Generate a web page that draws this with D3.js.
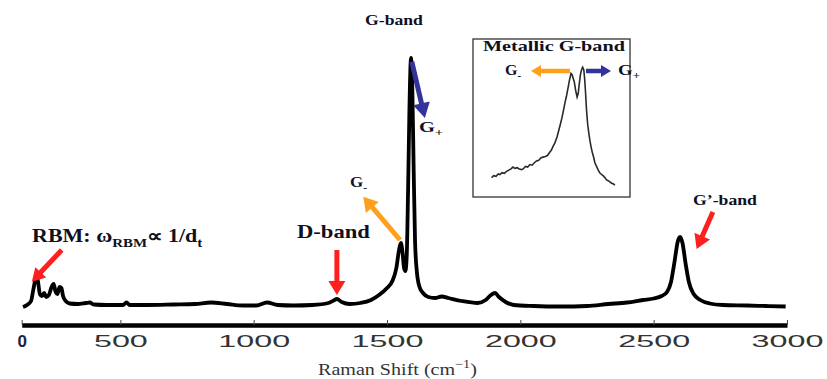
<!DOCTYPE html>
<html>
<head>
<meta charset="utf-8">
<script src="https://cdn.jsdelivr.net/npm/d3@7"></script>
<style>
  body { margin: 0; background: #fff; }
  svg { display: block; }
</style>
</head>
<body>
<svg id="chart" width="827" height="379"></svg>
<script>
(function() {
    'use strict';

    // main spectrum (Raman shift in cm-1, intensity a.u.)
    var ramanShift = [135, 150, 165, 172, 180, 186, 192, 198, 206, 214, 222, 232, 242, 250, 257, 264, 272, 279, 285, 295,
        310, 340, 370, 385, 400, 450, 510, 523, 535, 600, 700, 780, 840, 900, 960, 1010, 1050, 1090, 1150, 1220,
        1280, 1300, 1312, 1330, 1360, 1400, 1440, 1470, 1500, 1520, 1535, 1545, 1552, 1558, 1564, 1569, 1574, 1579,
        1584, 1590, 1595, 1600, 1605, 1612, 1622, 1635, 1655, 1680, 1705, 1730, 1780, 1840, 1870, 1890, 1905, 1920,
        1945, 1975, 2050, 2150, 2250, 2330, 2400, 2460, 2500, 2530, 2550, 2565, 2578, 2590, 2599, 2608, 2620, 2632,
        2650, 2675, 2710, 2760, 2850, 2920, 2995];
    var intensity = [1.2, 2.0, 3.6, 7.2, 11.6, 13.6, 10.8, 6.4, 5.6, 6.8, 5.2, 6.0, 9.2, 10.4, 7.2, 6.4, 9.2, 8.8, 5.6, 3.6,
        2.6, 2.4, 2.8, 3.0, 2.2, 2.0, 2.0, 3.0, 2.0, 2.0, 2.2, 2.4, 3.0, 2.4, 1.8, 1.8, 3.0, 2.0, 1.8, 2.0,
        2.8, 3.8, 4.4, 3.2, 2.4, 2.8, 4.0, 6.0, 8.8, 11.6, 16.8, 24.0, 26.8, 23.2, 16.8, 15.6, 22.0, 48.0,
        80.0, 100.8, 88.0, 56.0, 28.0, 15.2, 9.2, 6.8, 5.2, 4.8, 5.4, 4.8, 3.6, 2.8, 4.0, 6.0, 6.8, 5.2,
        3.2, 2.0, 1.6, 1.4, 1.6, 2.4, 3.0, 4.0, 4.6, 5.6, 7.2, 11.2, 19.2, 27.2, 29.2, 26.8, 18.4, 11.2,
        6.4, 4.0, 2.6, 2.0, 1.8, 1.6, 1.4];

    // inset: metallic G-band (normalised)
    var insetShift = [1262, 1270, 1278, 1286, 1292, 1300, 1308, 1316, 1324, 1332, 1339, 1346, 1354, 1362, 1370, 1376,
        1384, 1392, 1400, 1408, 1416, 1424, 1432, 1440, 1448, 1456, 1464, 1470, 1477, 1483, 1490, 1498, 1505,
        1512, 1519, 1526, 1532, 1537, 1542, 1548, 1552, 1556, 1560, 1565, 1570, 1574, 1578, 1582, 1586, 1590,
        1594, 1597, 1600, 1604, 1608, 1612, 1616, 1620, 1625, 1630, 1634, 1640, 1646, 1652, 1658, 1664, 1670,
        1676, 1682, 1688, 1694, 1700, 1706];
    var insetIntensity = [0.10, 0.115, 0.11, 0.13, 0.125, 0.14, 0.135, 0.15, 0.16, 0.17, 0.185, 0.175, 0.18, 0.17, 0.165, 0.17,
        0.19, 0.185, 0.205, 0.20, 0.22, 0.235, 0.24, 0.26, 0.265, 0.27, 0.28, 0.30, 0.32, 0.35, 0.38, 0.43, 0.49,
        0.55, 0.62, 0.70, 0.76, 0.82, 0.88, 0.94, 0.93, 0.90, 0.87, 0.80, 0.75, 0.78, 0.86, 0.93, 0.97, 0.99,
        0.97, 0.90, 0.80, 0.64, 0.53, 0.46, 0.40, 0.35, 0.30, 0.26, 0.22, 0.19, 0.16, 0.137, 0.125, 0.115, 0.10,
        0.081, 0.075, 0.065, 0.055, 0.05, 0.04];

    var tickValues = [130, 500, 1000, 1500, 2000, 2500, 3000];
    var tickLabels = ['0', '500', '1000', '1500', '2000', '2500', '3000'];

    var RED = '#ff1f1f', ORANGE = '#ffa01c', BLUE = '#333399', INK = '#10101f';
    var SERIF = '"Liberation Serif", "Times New Roman", serif';

    var svg = d3.select('#chart');

    // scales
    var x = d3.scaleLinear().domain([130, 3000]).range([21.7, 787]);
    var y = d3.scaleLinear().domain([0, 100]).range([310, 60]);
    var xi = d3.scaleLinear().domain([1260, 1710]).range([491, 616]);
    var yi = d3.scaleLinear().domain([0, 1]).range([190, 66]);

    /* + axis */
    var axis = svg.append('g')
        .attr('transform', 'translate(0,325)')
        .call(d3.axisBottom(x)
            .tickValues(tickValues)
            .tickFormat(function(d, i) { return tickLabels[i]; })
            .tickSizeInner(-5)
            .tickSizeOuter(0));
    axis.select('.domain').attr('stroke', '#000').attr('stroke-width', 4.5);
    axis.selectAll('.tick line').attr('stroke', '#444').attr('stroke-width', 1);
    axis.selectAll('.tick text')
        .attr('y', 22).attr('dy', 0)
        .attr('font-family', '"Liberation Sans", Arial, sans-serif')
        .attr('font-size', 17)
        .attr('fill', '#333')
        .attr('transform', 'scale(1.9,1)');
    axis.selectAll('.tick text').filter(function(d) { return d === 130; })
        .attr('transform', null).attr('font-weight', 'bold').attr('fill', '#1a2440');

    var tg = svg.append('g').attr('transform', 'translate(318,375)');
    var title = tg.append('text')
        .attr('font-family', SERIF).attr('font-size', 17).attr('fill', '#333');
    title.append('tspan').text('Raman Shift (cm');
    title.append('tspan').attr('font-size', 12).attr('dy', -7).text('\u22121');
    title.append('tspan').attr('dy', 7).text(')');
    title.attr('transform', 'scale(' + (159 / title.node().getComputedTextLength()) + ',1)');
    /* = axis */

    /* + spectrum */
    var line = d3.line()
        .x(function(d, i) { return x(ramanShift[i]); })
        .y(function(d) { return y(d); })
        .curve(d3.curveMonotoneX);
    svg.append('path')
        .datum(intensity)
        .attr('d', line)
        .attr('fill', 'none')
        .attr('stroke', '#000')
        .attr('stroke-width', 3.8)
        .attr('stroke-linejoin', 'round');
    /* = spectrum */

    /* + inset */
    svg.append('rect')
        .attr('x', 473).attr('y', 39).attr('width', 157).attr('height', 158)
        .attr('fill', '#fff').attr('stroke', '#222').attr('stroke-width', 1.2);
    var iline = d3.line()
        .x(function(d, i) { return xi(insetShift[i]); })
        .y(function(d) { return yi(d); });
    svg.append('path')
        .datum(insetIntensity)
        .attr('d', iline)
        .attr('fill', 'none')
        .attr('stroke', '#2a2a2a')
        .attr('stroke-width', 1.6);
    /* = inset */

    /* + arrows */
    function arrow(p0, p1, color, w, hl, hw) {
        var dx = p1[0] - p0[0], dy = p1[1] - p0[1], L = Math.hypot(dx, dy);
        var ux = dx / L, uy = dy / L, nx = -uy, ny = ux;
        var bx = p1[0] - ux * hl, by = p1[1] - uy * hl;
        var pts = [
            [p0[0] + nx * w / 2, p0[1] + ny * w / 2],
            [bx + nx * w / 2, by + ny * w / 2],
            [bx + nx * hw / 2, by + ny * hw / 2],
            p1,
            [bx - nx * hw / 2, by - ny * hw / 2],
            [bx - nx * w / 2, by - ny * w / 2],
            [p0[0] - nx * w / 2, p0[1] - ny * w / 2]
        ];
        svg.append('polygon').attr('points', pts.join(' ')).attr('fill', color);
    }
    function main(p) { return [x(p[0]), y(p[1])]; }
    function ins(p) { return [xi(p[0]), yi(p[1])]; }

    arrow(main([280, 24]), main([168, 11.3]), RED, 5, 13, 15);
    arrow(main([1312, 24]), main([1312, 6]), RED, 5, 14, 17);
    arrow(main([1549, 28]), main([1411, 45.3]), ORANGE, 5, 14, 17);
    arrow(main([1593, 99.3]), main([1642, 76.8]), BLUE, 5, 15, 17);
    arrow(main([2722, 39.2]), main([2661, 24.4]), RED, 5, 14, 17);
    arrow(ins([1544, 0.96]), ins([1404, 0.96]), ORANGE, 4.5, 10, 12);
    arrow(ins([1602, 0.96]), ins([1692, 0.96]), BLUE, 4.5, 10, 12);
    /* = arrows */

    /* + labels */
    function label(x0, y0, width, size, parts) {
        var g = svg.append('g').attr('transform', 'translate(' + x0 + ',' + y0 + ')');
        var t = g.append('text')
            .attr('font-family', SERIF).attr('font-weight', 'bold')
            .attr('font-size', size).attr('fill', INK);
        parts.forEach(function(p) {
            t.append('tspan')
                .attr('font-size', p.sub ? size * 0.68 : size)
                .attr('dy', p.dy || 0)
                .text(p.t);
        });
        var bw = t.node().getComputedTextLength();
        t.attr('transform', 'scale(' + (width / bw) + ',1)');
    }

    label(365, 25, 58, 14, [{t: 'G-band'}]);
    label(419, 132, 24, 14, [{t: 'G'}, {t: '+', sub: true, dy: 4}]);
    label(350, 187, 17, 14, [{t: 'G'}, {t: '-', sub: true, dy: 4}]);
    label(297, 238, 73, 18, [{t: 'D-band'}]);
    label(32, 242, 171, 18, [
        {t: 'RBM: \u03c9'}, {t: 'RBM', sub: true, dy: 5},
        {t: '\u221d 1/d', dy: -5}, {t: 't', sub: true, dy: 5}
    ]);
    label(693, 205, 64, 14, [{t: 'G\u2019-band'}]);
    label(483, 51, 142, 15, [{t: 'Metallic G-band'}]);
    label(505, 75, 16, 14, [{t: 'G'}, {t: '-', sub: true, dy: 4}]);
    label(618, 75, 22, 14, [{t: 'G'}, {t: '+', sub: true, dy: 4}]);
    /* = labels */

})();
</script>
</body>
</html>
